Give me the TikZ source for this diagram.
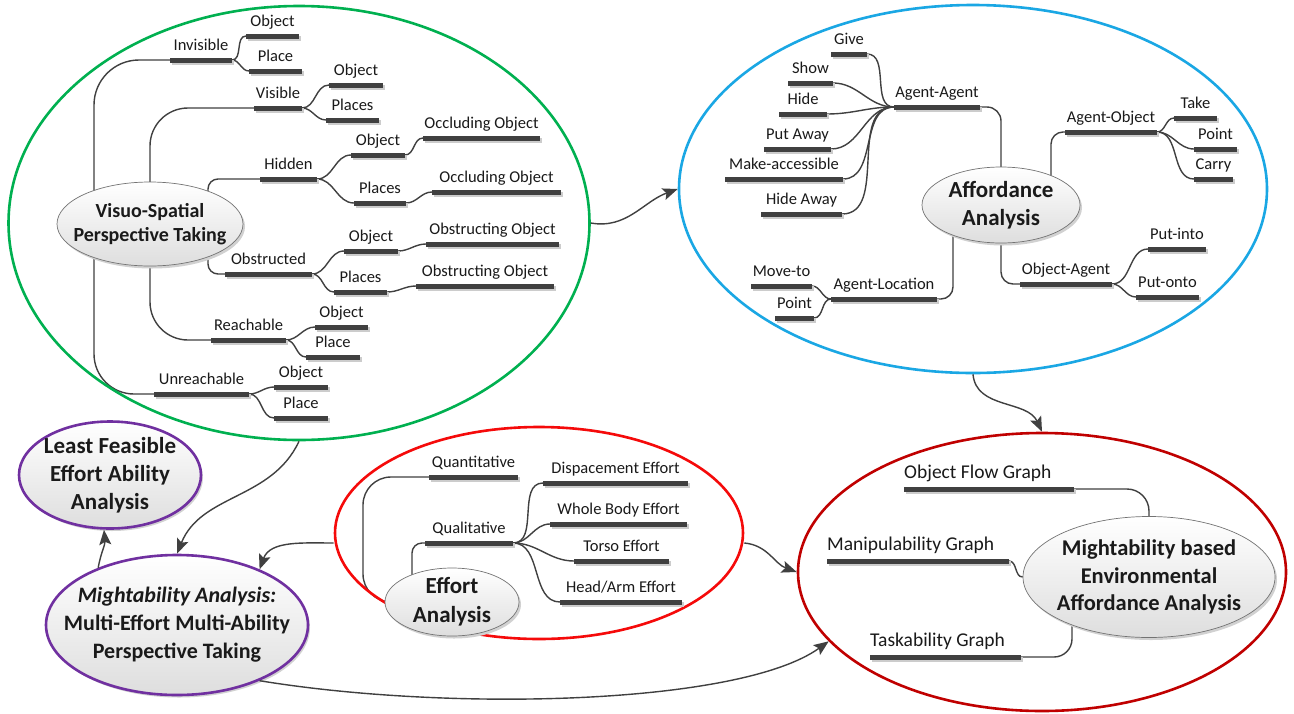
\documentclass[tikz,border=0pt]{standalone}
\usepackage{fontspec}
\setmainfont{Carlito}
\usetikzlibrary{shapes.geometric,arrows.meta,shadows,backgrounds}
\definecolor{cgreen}{HTML}{00B050}
\definecolor{cblue}{HTML}{1AA7E4}
\definecolor{cred}{HTML}{F50A0A}
\definecolor{cdred}{HTML}{C00000}
\definecolor{cpurp}{HTML}{7030A0}
\definecolor{cbar}{HTML}{404040}
\definecolor{ctext}{HTML}{1A1A1A}
\tikzset{
 barnode/.style={rectangle, fill=cbar, draw=none, minimum height=5pt, inner sep=0pt, outer sep=0pt,
   drop shadow={shadow xshift=1.5pt, shadow yshift=-2pt, fill=black!20, opacity=1}},
 lab/.style={text=ctext, inner sep=0pt, font=\fontsize{16.5}{19}\selectfont, anchor=base},
 biglab/.style={text=ctext, inner sep=0pt, font=\fontsize{19.5}{22}\selectfont, anchor=base west},
 conn/.style={draw=cbar, line width=1.4pt},
 hub/.style={ellipse, draw=black!55, line width=0.7pt, top color=white, bottom color=black!13,
   align=center, inner xsep=-40pt, inner ysep=-15pt, text=ctext,
   drop shadow={shadow xshift=2pt, shadow yshift=-2.5pt, fill=black!18, opacity=1}},
 ring/.style={ellipse, line width=2.6pt, inner sep=0pt, fill=none},
 arr/.style={draw=cbar, line width=1.4pt, -{Stealth[length=15pt,width=12pt,inset=3pt]}},
}
\newcommand\mybar[5]{%
 \node[barnode, minimum width={#3-#2}] (#1) at ({(#2+#3)/2},#4) {};
 \node[lab] (#1t) at ([yshift=7pt]#1.north) {#5};}
\newcommand\mybarl[5]{%
 \node[barnode, minimum width={#3-#2}] (#1) at ({(#2+#3)/2},#4) {};
 \node[biglab] (#1t) at ([yshift=8pt]#1.north west) {#5};}
\begin{document}
\begin{tikzpicture}[x=1pt,y=-1pt]
\begin{scope}[on background layer]\fill[white] (0,0) rectangle (1294,713);\end{scope}
\useasboundingbox (0,0) rectangle (1294,713);

% rings
\node[ring, draw=cgreen, minimum width=581pt, minimum height=434pt] (G) at (299,223) {};
\node[ring, draw=cblue, minimum width=588pt, minimum height=368pt] (B) at (973,189) {};
\node[ring, draw=cred, minimum width=408pt, minimum height=212pt] (E) at (539,533) {};
\node[ring, draw=cdred, minimum width=488pt, minimum height=278pt] (RB) at (1042,572) {};

% hubs
\node[hub, minimum width=186pt, minimum height=84pt, font=\bfseries\fontsize{20}{24}\selectfont] (VS) at (150,224) {Visuo-Spatial\\Perspective Taking};
\node[hub, minimum width=158pt, minimum height=76pt, font=\bfseries\fontsize{23}{28}\selectfont] (AF) at (1001,205) {Affordance\\Analysis};
\node[hub, minimum width=134pt, minimum height=68pt, font=\bfseries\fontsize{23}{29}\selectfont] (EF) at (452,602) {Effort\\Analysis};
\node[hub, minimum width=252pt, minimum height=121pt, font=\bfseries\fontsize{22.5}{27.5}\selectfont] (MB) at (1149,577) {Mightability based\\Environmental\\Affordance Analysis};
\node[hub, draw=cpurp, line width=2.6pt, minimum width=182pt, minimum height=107pt, font=\bfseries\fontsize{23}{28}\selectfont] (LF) at (110,475) {Least Feasible\\Effort Ability\\Analysis};
\node[hub, draw=cpurp, line width=2.6pt, minimum width=262pt, minimum height=140pt, font=\bfseries\fontsize{22}{28}\selectfont] (MA) at (177,625) {\textit{Mightability Analysis:}\\Multi-Effort Multi-Ability\\Perspective Taking};

% visuo-spatial tree
\mybar{inv}{170}{232}{60}{Invisible}
\mybar{invo}{246}{299}{36}{Object}
\mybar{invp}{249}{302}{71}{Place}
\mybar{vis}{254}{302}{108}{Visible}
\mybar{viso}{329}{383}{85}{Object}
\mybar{visp}{326}{379}{120}{Places}
\mybar{hid}{260}{317}{179}{Hidden}
\mybar{hido}{351}{405}{155}{Object}
\mybar{hidoo}{423}{540}{138}{Occluding Object}
\mybar{hidp}{354}{406}{203}{Places}
\mybar{hidpo}{432}{561}{192}{Occluding Object}
\mybar{obs}{225}{312}{274}{Obstructed}
\mybar{obso}{344}{398}{251}{Object}
\mybar{obsoo}{426}{559}{244}{Obstructing Object}
\mybar{obsp}{334}{387}{292}{Places}
\mybar{obspo}{416}{554}{286}{Obstructing Object}
\mybar{rea}{211}{286}{340}{Reachable}
\mybar{reao}{315}{368}{327}{Object}
\mybar{reap}{306}{360}{357}{Place}
\mybar{unr}{154}{249}{394}{Unreachable}
\mybar{unro}{274}{328}{387}{Object}
\mybar{unrp}{274}{328}{418}{Place}

% affordance tree
\mybar{give}{831}{867}{54}{Give}
\mybar{show}{788}{833}{83}{Show}
\mybar{hide}{779}{827}{114}{Hide}
\mybar{putaway}{764}{831}{149}{Put Away}
\mybar{makeacc}{725}{843}{179}{Make-accessible}
\mybar{hideaway}{761}{842}{214}{Hide Away}
\mybar{aa}{894}{980}{107}{Agent-Agent}
\mybar{ao}{1065}{1157}{132}{Agent-Object}
\mybar{take}{1174}{1217}{118}{Take}
\mybar{aopoint}{1194}{1237}{149}{Point}
\mybar{carry}{1194}{1233}{179}{Carry}
\mybar{al}{831}{937}{299}{Agent-Location}
\mybar{moveto}{751}{812}{286}{Move-to}
\mybar{alpoint}{775}{814}{318}{Point}
\mybar{oa}{1020}{1112}{284}{Object-Agent}
\mybar{putinto}{1148}{1206}{249}{Put-into}
\mybar{putonto}{1136}{1199}{297}{Put-onto}

% effort tree
\mybar{quant}{429}{518}{477}{Quantitative}
\mybar{qual}{425}{513}{543}{Qualitative}
\mybar{disp}{543}{688}{483}{Dispacement Effort}
\mybar{whole}{550}{687}{524}{Whole Body Effort}
\mybar{torso}{574}{669}{561}{Torso Effort}
\mybar{head}{560}{682}{602}{Head/Arm Effort}

% environmental affordance
\mybarl{ofg}{904}{1074}{489}{Object Flow Graph}
\mybarl{man}{827}{1009}{561}{Manipulability Graph}
\mybarl{task}{870}{1021}{657}{Taskability Graph}

\begin{scope}[on background layer]
% visuo-spatial connectors
\draw[conn, rounded corners=45pt] ([xshift=-56pt]VS.center) |- (inv.west);
\draw[conn, rounded corners=38pt] (VS.center) |- (vis.west);
\draw[conn, rounded corners=10pt] ([xshift=58pt]VS.center) |- (hid.west);
\draw[conn, rounded corners=10pt] ([xshift=58pt]VS.center) |- (obs.west);
\draw[conn, rounded corners=38pt] (VS.center) |- (rea.west);
\draw[conn, rounded corners=40pt] ([xshift=-56pt]VS.center) |- (unr.west);
\draw[conn] (inv.east) to[out=0,in=180] (invo.west);
\draw[conn] (inv.east) to[out=0,in=180] (invp.west);
\draw[conn] (vis.east) to[out=0,in=180] (viso.west);
\draw[conn] (vis.east) to[out=0,in=180] (visp.west);
\draw[conn] (hid.east) to[out=0,in=180] (hido.west);
\draw[conn] (hid.east) to[out=0,in=180] (hidp.west);
\draw[conn] (hido.east) to[out=0,in=180] (hidoo.west);
\draw[conn] (hidp.east) to[out=0,in=180] (hidpo.west);
\draw[conn] (obs.east) to[out=0,in=180] (obso.west);
\draw[conn] (obs.east) to[out=0,in=180] (obsp.west);
\draw[conn] (obso.east) to[out=0,in=180] (obsoo.west);
\draw[conn] (obsp.east) to[out=0,in=180] (obspo.west);
\draw[conn] (rea.east) to[out=0,in=180] (reao.west);
\draw[conn] (rea.east) to[out=0,in=180] (reap.west);
\draw[conn] (unr.east) to[out=0,in=180] (unro.west);
\draw[conn] (unr.east) to[out=0,in=180] (unrp.west);
% affordance connectors
\draw[conn, rounded corners=14pt] (AF.center) |- (aa.east);
\draw[conn, rounded corners=12pt] ([xshift=50pt]AF.center) |- (ao.west);
\draw[conn, rounded corners=12pt] ([xshift=-48pt]AF.center) |- (al.east);
\draw[conn, rounded corners=12pt] (AF.center) |- (oa.west);
\foreach \c in {give,show,hide,putaway,makeacc,hideaway}
  \draw[conn] (\c.east) to[out=0,in=180] (aa.west);
\foreach \c in {take,aopoint,carry}
  \draw[conn] (ao.east) to[out=0,in=180] (\c.west);
\foreach \c in {moveto,alpoint}
  \draw[conn] (al.west) to[out=180,in=0] (\c.east);
\foreach \c in {putinto,putonto}
  \draw[conn] (oa.east) to[out=0,in=180] (\c.west);
% effort connectors
\draw[conn, rounded corners=28pt] (quant.west) -- ++(-66pt,0) |- (EF.west);
\draw[conn, rounded corners=10pt] ([xshift=-40pt]EF.center) |- (qual.west);
\foreach \c in {disp,whole,torso,head}
  \draw[conn] (qual.east) to[out=0,in=180] (\c.west);
% environmental connectors
\draw[conn, rounded corners=22pt] (ofg.east) -| (MB.north);
\draw[conn] (man.east) to[out=0,in=180] (MB.west);
\draw[conn, rounded corners=18pt] (task.east) -| ([xshift=-77pt]MB.center);
\end{scope}

% arrows between groups
\draw[arr] (G.east) to[out=-10,in=200] (B.west);
\draw[arr] (B.south) to[out=-85,in=115] (RB.north);
\draw[arr] (G.south) to[out=-115,in=68] (MA.north);
\draw[arr] ([yshift=-10pt]E.west) to[out=180,in=70] (MA.34);
\draw[arr] (MA.144) to[out=80,in=-85] ([xshift=-6pt]LF.south);
\draw[arr] ([yshift=-10pt]E.east) to[out=-5,in=160] (RB.west);
\draw[arr] (MA.-34) .. controls (450,712) and (740,705) .. (RB.198);
\end{tikzpicture}
\end{document}
